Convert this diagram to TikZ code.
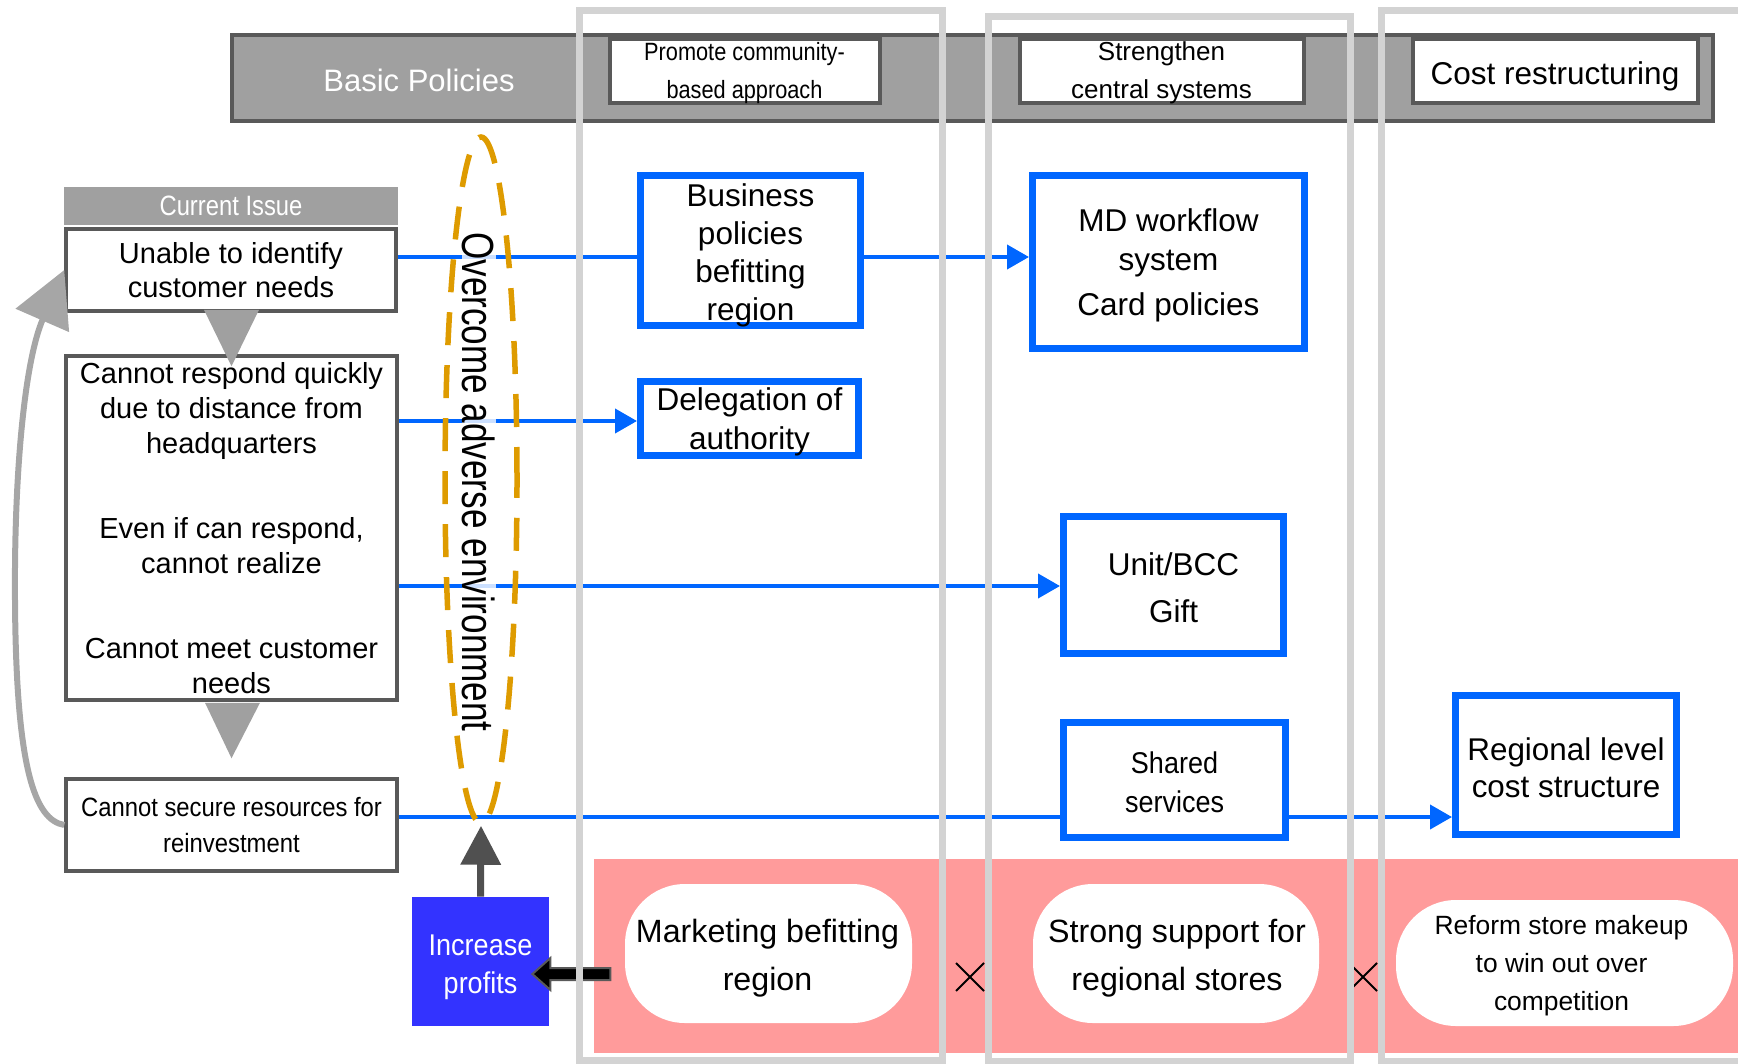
\documentclass[tikz,border=0pt]{standalone}
\usepackage{fontspec}
\setmainfont{Liberation Sans}
\newfontfamily\condA[FakeStretch=0.78]{Liberation Sans}
\newfontfamily\condB[FakeStretch=0.85]{Liberation Sans}
\newfontfamily\condP[FakeStretch=0.87]{Liberation Sans}
\newfontfamily\condC[FakeStretch=0.9]{Liberation Sans}
\usetikzlibrary{arrows.meta,shapes.geometric,shapes.misc,calc}
\newcommand\setfs[2]{\fontsize{#1}{#2}\selectfont}

\definecolor{bargray}{HTML}{A0A0A0}
\definecolor{dkgray}{HTML}{595959}
\definecolor{colgray}{HTML}{D3D3D3}
\definecolor{lineblue}{HTML}{0066FF}
\definecolor{ipblue}{HTML}{3333FF}
\definecolor{pinkband}{HTML}{FF9B9B}
\definecolor{envorange}{HTML}{DE9B00}
\definecolor{arrowgray}{HTML}{A6A6A6}
\definecolor{updark}{HTML}{505050}

\tikzset{
  issuebox/.style={draw=dkgray, line width=1.75pt, fill=white, inner sep=0pt, align=center, font=\setfs{14.5}{17.25}},
  planbox/.style={draw=lineblue, line width=3.5pt, fill=white, inner sep=0pt},
  headbox/.style={draw=dkgray, line width=2pt, fill=white, inner sep=0pt, minimum height=32pt},
  stadium/.style={fill=white, rounded corners=30pt, inner sep=0pt},
  boxtext/.style={align=center, inner sep=0pt, font=\setfs{15.75}{19}},
  linkline/.style={draw=lineblue, line width=2pt},
  linkarrow/.style={linkline, -{Triangle[length=11pt,width=12pt]}},
  colframe/.style={draw=colgray, line width=3.5pt},
  flowtri/.style={fill=bargray},
  crossmark/.style={draw, cross out, line width=1pt, minimum size=13pt, inner sep=0pt},
}

\begin{document}
\begin{tikzpicture}[x=0.5pt,y=-0.5pt]
\useasboundingbox (0,0) rectangle (1738,1064);

% pink band of store-level measures
\fill[pinkband] (594,859) rectangle (1738,1053);

% basic policies header
\node[draw=dkgray, fill=bargray, line width=2pt, minimum width=740.5pt, minimum height=43pt, inner sep=0pt] (bar) at (972.5,78) {};
\node[text=white, font=\setfs{15.5}{18}] (bptitle) at (419,80) {Basic Policies};
\node[headbox, minimum width=135pt] (hb1) at (744.5,71.5) {};
\node[boxtext, font=\condP\setfs{12.5}{19}] (hb1t) at ($(hb1)+(0,1.5)$) {Promote community-\\based approach};
\node[headbox, minimum width=142pt] (hb2) at (1161.5,71.5) {};
\node[boxtext, font=\setfs{13}{19}] (hb2t) at ($(hb2)+(0,1.5)$) {Strengthen\\central systems};
\node[headbox, minimum width=142.5pt] (hb3) at (1555,71.5) {};
\node[boxtext, font=\setfs{15.75}{18}] (hb3t) at ($(hb3)+(0,4.5)$) {Cost restructuring};

% current issues
\node[fill=bargray, text=white, minimum width=167pt, minimum height=19pt, inner sep=0pt, font=\condB\setfs{14}{16}] (ci) at (231,206) {Current Issue};
\node[issuebox, minimum width=165pt, minimum height=41pt] (unable) at (231,270) {Unable to identify\\customer needs};
\node[issuebox, minimum width=165.5pt, minimum height=172pt, font=\setfs{14.5}{17.5}] (big) at (231.5,528)
  {Cannot respond quickly\\due to distance from\\headquarters\\[25pt]Even if can respond,\\cannot realize\\[25pt]Cannot meet customer\\needs};
\node[issuebox, minimum width=165.5pt, minimum height=46pt, font=\condC\setfs{13.25}{18}] (secure) at (231.5,825) {Cannot secure resources for\\reinvestment};

% downward flow between issues
\fill[flowtri] ($(unable.south)+(-27,-3)$) -- ($(unable.south)+(28,-3)$) -- ($(big.north)+(0,12)$) -- cycle;
\fill[flowtri] ($(big.south)+(-26.5,1)$) -- ($(big.south)+(28.5,1)$) -- ($(secure.north)+(0,-19)$) -- cycle;

% feedback loop back to the first issue
\draw[draw=arrowgray, line width=3pt, -{Triangle[length=27.5pt,width=28.5pt]}]
  (secure.west) .. controls (35,820) and (16,770) .. (15,600)
  .. controls (14,470) and (25,360) .. (unable.west);

% measures
\node[planbox, minimum width=110pt, minimum height=75pt] (bp) at (750.5,250.5) {};
\node[boxtext] (bpt) at ($(bp)+(0,4.5)$) {Business\\policies\\befitting\\region};
\node[planbox, minimum width=136pt, minimum height=86.5pt] (md) at (1168.5,262) {};
\node[boxtext, font=\setfs{15.75}{19.5}] (mdt) at ($(md)+(0,3.5)$) {MD workflow\\system\\[3pt]Card policies};
\node[planbox, minimum width=109pt, minimum height=37pt] (del) at (749.5,418.5) {};
\node[boxtext, font=\setfs{15.75}{19.4}] (delt) at ($(del)+(0,3)$) {Delegation of\\authority};
\node[planbox, minimum width=110pt, minimum height=68.5pt] (ubcc) at (1173.5,585) {};
\node[boxtext, font=\setfs{15.75}{23.25}] (ubcct) at ($(ubcc)+(0,2.5)$) {Unit/BCC\\Gift};
\node[planbox, minimum width=111pt, minimum height=57.5pt] (ss) at (1174.5,780) {};
\node[boxtext, font=\condC\setfs{15}{19.5}] (sst) at ($(ss)+(0,2.5)$) {Shared\\services};
\node[planbox, minimum width=110.5pt, minimum height=69.5pt] (rl) at (1566,765) {};
\node[boxtext, font=\setfs{15.7}{18.3}] (rlt) at ($(rl)+(0,3)$) {Regional level\\cost structure};

% links from issues to measures
\coordinate (r1) at (unable.east |- 0,257);
\coordinate (r2) at (big.east |- 0,421);
\coordinate (r3) at (big.east |- 0,586);
\coordinate (r4) at (secure.east |- 0,817);
\draw[linkline] (r1) -- (r1 -| bp.west);
\draw[linkarrow] (r1 -| bp.east) -- (r1 -| md.west);
\draw[linkarrow] (r2) -- (r2 -| del.west);
\draw[linkarrow] (r3) -- (r3 -| ubcc.west);
\draw[linkline] (r4) -- (r4 -| ss.west);
\draw[linkarrow] (r4 -| ss.east) -- (r4 -| rl.west);

% overcoming the environment
\node[rotate=-90, fill=white, fill opacity=0.8, text opacity=1, inner sep=0pt, font=\condA\setfs{22.5}{27}] (ovc) at (479,482) {Overcome adverse environment};
\node[draw=envorange, line width=2.75pt, dash pattern=on 16.5pt off 10pt, ellipse, minimum width=36pt, minimum height=343pt, inner sep=0pt] (env) at (481,480) {};

% profits
\node[fill=ipblue, minimum width=68.5pt, minimum height=64.5pt, inner sep=0pt] (ip) at (480.5,961.5) {};
\node[boxtext, text=white, font=\condC\setfs{15}{19}] (ipt) at ($(ip)+(0,5.5)$) {Increase\\profits};
\draw[draw=updark, line width=3.5pt, -{Triangle[length=19.5pt,width=19.5pt]}] (ip.north) -- (env.south);
\begin{scope}[shift={(ip.east)}]
  \filldraw[fill=black, draw=dkgray, line width=1pt]
    (-17,12.5) -- (1,-3.5) -- (1,6.5) -- (61,6.5) -- (61,18.5) -- (1,18.5) -- (1,28.5) -- cycle;
\end{scope}

% store-level measures
\node[stadium, minimum width=143.5pt, minimum height=69.5pt] (mk) at (768.5,953.5) {};
\node[boxtext, font=\setfs{16.1}{24}] (mkt) at ($(mk)+(-1,5)$) {Marketing befitting\\region};
\node[stadium, minimum width=143pt, minimum height=69.5pt] (st) at (1176,953.5) {};
\node[boxtext, font=\setfs{16.1}{24}] (stt) at ($(st)+(1,4.5)$) {Strong support for\\regional stores};
\node[stadium, minimum width=168.5pt, minimum height=63pt] (rf) at (1564.5,963) {};
\node[boxtext, font=\setfs{13.2}{19}] (rft) at ($(rf)+(-3,3)$) {Reform store makeup\\to win out over\\competition};
\node[crossmark] (x1) at (970,977) {};
\node[crossmark] (x2) at (1363,977) {};

% policy columns
\draw[colframe] (579.5,11) rectangle (942.5,1060);
\draw[colframe] (988,16.5) rectangle (1350,1061);
\draw[colframe] (1381,11) rectangle (1760,1061);
\end{tikzpicture}
\end{document}
